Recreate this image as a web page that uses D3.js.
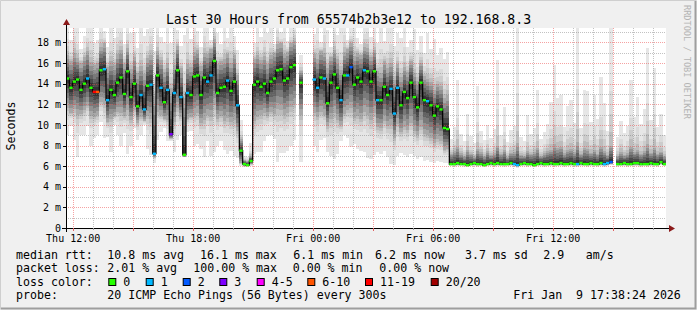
<!DOCTYPE html>
<html>
<head>
<meta charset="utf-8">
<script src="https://cdn.jsdelivr.net/npm/d3@7"></script>
<style>
  body { margin: 0; background: #f0f0f0; }
  text { font-family: "DejaVu Sans Mono", monospace; white-space: pre; }
</style>
</head>
<body>
<svg id="chart" width="697" height="310"></svg>
<script>
// smokeping graph, last 30 hours, 10 minute steps, values in ms
const start = new Date(2026, 0, 8, 11, 38, 24);
const end = new Date(2026, 0, 9, 17, 38, 24);
const stepMinutes = 10;

const median = [
  14.5, 13.6, 14.2, 14.4, 13.4, 14.0, 14.5, 13.6, 13.2, 13.2,
  15.3, 15.4, 12.4, 13.4, 12.9, 14.1, 14.6, 13.0, 15.2, 12.7,
  14.0, 11.8, 12.9, 11.5, 13.8, 13.9, 7.2, 14.8, 13.6, 12.2,
  13.4, 9.1, 13.1, 15.3, 12.7, 7.1, 13.1, 12.9, 14.7, 14.8,
  12.9, 14.6, 14.2, 14.8, 16.2, 13.1, 13.6, 13.7, 14.3, 13.3,
  14.2, 11.9, 7.5, 6.2, 6.1, 6.5, 13.9, 14.2, 13.7, 14.0,
  13.1, 14.2, 14.5, 15.3, 15.4, 14.3, 14.5, 15.6, 15.8, null,
  14.1, null, null, null, 14.4, 13.6, 14.6, 14.5, 12.1, 14.1,
  14.9, 13.6, 12.4, 14.8, 14.8, 15.6, 13.9, 14.6, 14.2, 15.3,
  15.2, 14.2, 15.2, 12.4, 12.4, 13.7, 12.9, 13.5, 11.1, 13.6,
  11.9, 13.2, 12.6, 14.1, 12.7, 11.7, 14.1, 12.4, 12.3, 11.9,
  10.9, 11.8, 11.5, 9.7, 9.6, 6.2, 6.2, 6.3, 6.2, 6.2,
  6.1, 6.2, 6.3, 6.2, 6.2, 6.1, 6.2, 6.3, 6.2, 6.3,
  6.2, 6.2, 6.2, 6.3, 6.2, 6.1, 6.2, 6.3, 6.2, 6.2,
  6.1, 6.2, 6.3, 6.2, 6.2, 6.3, 6.2, 6.2, 6.3, 6.2,
  6.2, 6.3, 6.2, 6.2, 6.3, 6.2, 6.2, 6.3, 6.2, 6.2,
  6.3, 6.2, 6.3, 6.4, null, 6.2, 6.2, 6.3, 6.2, 6.2,
  6.3, 6.3, 6.2, 6.2, 6.2, 6.3, 6.2, 6.2, 6.4, 6.2
];

// lost pings out of 20 per step
const lossCount = [
  0, 0, 0, 0, 0, 0, 1, 0, 12, 8,
  0, 1, 1, 0, 0, 0, 0, 0, 0, 0,
  0, 0, 1, 1, 0, 1, 1, 0, 1, 0,
  1, 3, 1, 0, 1, 0, 1, 0, 0, 0,
  0, 0, 1, 1, 0, 0, 0, 0, 1, 0,
  0, 1, 0, 0, 0, 0, 0, 0, 0, 0,
  0, 0, 0, 0, 0, 0, 0, 0, 0, 0,
  0, 0, 0, 0, 1, 1, 0, 1, 0, 0,
  0, 0, 1, 0, 1, 2, 0, 0, 0, 1,
  0, 0, 0, 1, 0, 0, 0, 1, 1, 1,
  0, 0, 0, 0, 0, 0, 0, 0, 1, 0,
  0, 0, 0, 0, 0, 0, 0, 0, 0, 0,
  0, 0, 0, 0, 0, 0, 0, 0, 0, 0,
  0, 0, 0, 0, 1, 1, 0, 0, 0, 0,
  0, 0, 0, 0, 0, 0, 0, 0, 0, 0,
  0, 0, 0, 1, 0, 0, 0, 0, 0, 0,
  0, 1, 1, 2, 0, 0, 0, 0, 0, 0,
  0, 0, 0, 0, 0, 0, 0, 0, 0, 0
];

// the smoke: fastest ping, lower quartile, upper quartile, slowest ping
const pingMin = [
  9.0, 9.9, 8.5, 6.9, 9.0, 9.0, 9.9, 8.0, 8.7, 9.0,
  10.3, 8.7, 8.8, 7.4, 10.0, 9.0, 8.0, 9.2, 7.2, 8.0,
  9.7, 8.5, 9.0, 10.0, 7.7, 7.1, 6.3, 8.5, 9.3, 9.7,
  8.4, 8.4, 7.4, 8.5, 9.0, 6.9, 9.3, 9.4, 8.0, 8.1,
  7.7, 6.9, 8.4, 7.0, 7.4, 8.0, 8.4, 7.6, 7.2, 7.5,
  7.0, 6.8, 6.0, 5.9, 5.9, 6.0, 7.2, 7.4, 7.4, 8.4,
  8.9, 9.0, 8.6, 6.4, 7.3, 7.3, 7.5, 8.0, 8.5, null,
  6.4, null, null, null, 8.0, 7.4, 8.5, 8.7, 7.4, 7.0,
  6.7, 7.2, 8.4, 9.0, 8.7, 7.9, 8.1, 7.7, 7.5, 7.4,
  6.8, 6.7, 7.1, 7.4, 7.2, 7.5, 6.9, 6.2, 6.1, 7.0,
  7.3, 7.1, 6.9, 7.2, 7.0, 6.7, 6.9, 6.5, 6.6, 6.4,
  6.3, 6.5, 6.4, 6.3, 6.3, 6.0, 5.9, 6.0, 6.0, 5.9,
  5.9, 6.0, 6.0, 5.9, 6.0, 5.9, 6.0, 6.0, 5.9, 6.0,
  6.0, 5.9, 6.0, 6.0, 5.9, 5.8, 6.0, 6.0, 5.9, 6.0,
  5.9, 6.0, 6.0, 5.9, 6.0, 6.0, 5.9, 6.0, 6.0, 5.9,
  6.0, 6.0, 5.9, 5.9, 6.0, 6.0, 5.9, 6.0, 6.0, 5.9,
  6.0, 5.9, 6.0, 6.1, null, 5.9, 6.0, 6.0, 5.9, 6.0,
  6.0, 6.0, 5.9, 6.0, 5.9, 6.0, 6.0, 5.9, 6.1, 6.0
];

const pingQ1 = [
  11.6, 11.2, 11.5, 11.0, 11.1, 11.4, 11.8, 10.9, 10.8, 11.0,
  12.2, 12.0, 10.3, 10.6, 10.9, 11.3, 11.2, 10.9, 11.4, 10.5,
  11.4, 10.2, 10.8, 10.4, 10.9, 10.6, 6.9, 11.3, 11.0, 10.6,
  10.5, 8.7, 10.3, 11.6, 10.8, 6.9, 10.6, 10.8, 11.0, 11.2,
  10.2, 10.5, 11.0, 10.8, 11.9, 10.6, 10.9, 10.4, 10.7, 10.3,
  10.5, 9.4, 6.3, 6.0, 6.0, 6.2, 10.4, 10.8, 11.0, 11.2,
  10.9, 11.3, 11.1, 11.5, 11.4, 11.0, 11.2, 11.7, 12.0, null,
  11.0, null, null, null, 11.2, 10.8, 11.3, 11.0, 9.9, 10.6,
  11.2, 10.5, 10.0, 11.1, 11.4, 11.6, 10.7, 10.9, 10.6, 11.3,
  11.0, 10.5, 11.2, 9.8, 9.7, 10.4, 9.9, 10.0, 8.7, 10.1,
  9.3, 9.8, 9.5, 10.2, 9.4, 9.0, 9.8, 9.1, 9.0, 8.7,
  8.2, 8.6, 8.4, 7.6, 7.7, 6.1, 6.1, 6.1, 6.1, 6.1,
  6.0, 6.1, 6.1, 6.1, 6.1, 6.0, 6.1, 6.1, 6.1, 6.1,
  6.1, 6.1, 6.1, 6.1, 6.1, 6.0, 6.1, 6.1, 6.1, 6.1,
  6.0, 6.1, 6.1, 6.1, 6.1, 6.1, 6.1, 6.1, 6.1, 6.1,
  6.1, 6.1, 6.1, 6.1, 6.1, 6.1, 6.1, 6.1, 6.1, 6.1,
  6.1, 6.1, 6.1, 6.2, null, 6.1, 6.1, 6.1, 6.1, 6.1,
  6.1, 6.1, 6.1, 6.1, 6.1, 6.1, 6.1, 6.1, 6.2, 6.1
];

const pingQ3 = [
  16.8, 16.2, 17.0, 16.5, 16.0, 16.6, 17.2, 16.1, 15.8, 16.0,
  17.6, 17.9, 15.6, 16.2, 15.8, 16.9, 17.3, 15.9, 17.5, 15.4,
  16.6, 15.0, 15.7, 14.9, 16.5, 16.8, 12.8, 17.2, 16.3, 15.1,
  16.0, 13.6, 15.8, 17.7, 15.5, 12.6, 15.9, 15.6, 17.1, 17.3,
  15.7, 17.0, 16.9, 17.4, 18.3, 15.9, 16.2, 16.4, 16.9, 16.0,
  16.8, 14.8, 8.6, 6.6, 6.5, 7.0, 16.4, 16.8, 16.3, 16.7,
  15.9, 16.8, 17.0, 17.8, 17.9, 16.9, 17.1, 17.9, 18.1, null,
  15.2, null, null, null, 16.9, 16.4, 17.2, 17.0, 15.5, 16.6,
  17.3, 16.4, 15.3, 17.1, 17.4, 17.9, 16.7, 17.0, 16.8, 17.6,
  17.5, 16.6, 17.3, 15.2, 15.0, 16.2, 15.5, 16.0, 14.4, 15.9,
  14.6, 15.6, 15.1, 16.2, 15.0, 14.3, 16.0, 14.7, 14.5, 14.2,
  13.4, 14.0, 13.8, 12.6, 12.9, 7.2, 7.5, 7.9, 7.3, 7.0,
  7.6, 7.2, 6.9, 7.7, 7.4, 7.0, 7.5, 7.1, 7.3, 8.0,
  7.2, 7.6, 6.9, 7.3, 7.4, 8.2, 7.1, 7.0, 7.5, 7.2,
  7.4, 7.8, 7.0, 7.3, 7.5, 7.6, 8.1, 7.8, 7.9, 7.3,
  7.6, 7.7, 7.4, 8.3, 7.2, 7.8, 7.7, 7.3, 7.6, 7.2,
  7.9, 7.5, 7.1, 8.0, null, 7.0, 7.4, 7.1, 7.3, 7.9,
  7.4, 7.6, 7.2, 7.5, 8.1, 7.3, 7.8, 7.2, 7.4, 7.0
];

const pingMax = [
  20.5, 18.2, 20.8, 19.6, 17.4, 18.6, 20.2, 21.0, 17.9, 18.2,
  20.6, 19.1, 17.6, 20.3, 18.4, 20.7, 21.0, 17.8, 20.5, 18.9,
  19.0, 17.5, 20.8, 18.6, 19.3, 21.0, 17.2, 20.7, 18.5, 18.0,
  20.4, 17.9, 20.9, 19.2, 17.7, 18.7, 20.6, 18.3, 21.0, 19.1,
  17.6, 20.8, 19.5, 18.2, 21.0, 18.9, 17.8, 20.5, 18.4, 20.9,
  18.6, 17.3, 10.5, 7.0, 6.9, 8.2, 17.9, 19.8, 18.5, 20.2,
  18.9, 19.5, 17.8, 21.0, 19.0, 20.6, 18.1, 19.4, 20.8, null,
  16.8, null, null, null, 18.8, 20.6, 18.0, 21.0, 19.2, 17.6,
  20.8, 18.7, 19.5, 21.0, 18.2, 19.7, 20.7, 18.4, 17.8, 20.5,
  21.0, 18.5, 19.8, 17.9, 20.6, 18.1, 19.4, 20.4, 17.7, 18.9,
  18.4, 20.1, 17.6, 18.2, 19.3, 17.3, 18.6, 17.0, 18.9, 17.4,
  18.3, 16.8, 17.5, 16.4, 17.1, 8.6, 9.8, 14.4, 9.1, 8.4,
  11.1, 8.9, 8.2, 13.8, 9.4, 8.5, 10.0, 8.7, 9.6, 16.3,
  9.0, 11.7, 8.3, 9.5, 9.9, 19.6, 8.8, 8.4, 11.0, 9.1,
  9.7, 13.4, 8.6, 9.3, 10.1, 12.2, 15.8, 12.6, 12.9, 9.8,
  11.8, 12.4, 10.2, 20.5, 9.7, 13.4, 13.3, 10.3, 12.9, 10.6,
  14.6, 12.1, 9.4, 20.5, null, 8.8, 10.4, 9.2, 9.9, 14.4,
  10.8, 12.7, 10.1, 11.5, 17.5, 10.5, 15.5, 9.8, 11.1, 9.0
];

const yTicks = [0, 2, 4, 6, 8, 10, 12, 14, 16, 18];
const yMax = 19.4;

const lossLabels = ["0", "1", "2", "3", "4-5", "6-10", "11-19", "20/20"];
const lossColors = ["#26ff00", "#00b8ff", "#0059ff", "#7e00ff", "#ff00ff", "#ff5500", "#ff0000", "#a10000"];

const titleText = "Last 30 Hours from 65574b2b3e12 to 192.168.8.3";
const rttStats = ["10.8 ms avg", "16.1 ms max", "6.1 ms min", "6.2 ms now", "3.7 ms sd", "2.9", "am/s"];
const lossStats = ["2.01 % avg", "100.00 % max", "0.00 % min", "0.00 % now"];
const probeText = "20 ICMP Echo Pings (56 Bytes) every 300s";
const stampText = "Fri Jan  9 17:38:24 2026";

// ---------------------------------------------------------------

const W = 697, H = 310;
const svg = d3.select("#chart");

const x = d3.scaleTime().domain([start, end]).range([66, 666]);
const y = d3.scaleLinear().domain([0, yMax]).range([228, 28]);

// smoke shades, outermost layer first
const shades = [230, 218, 204, 188, 168, 146, 122, 98, 74, 52];

function lossBucket(n) {
    if (n <= 3) return n;
    if (n <= 5) return 4;
    if (n <= 10) return 5;
    if (n <= 19) return 6;
    return 7;
}

const steps = median.map((m, i) => ({
    t0: d3.timeMinute.offset(start, i * stepMinutes),
    t1: d3.timeMinute.offset(start, (i + 1) * stepMinutes),
    med: m, lo: pingMin[i], q1: pingQ1[i], q3: pingQ3[i], hi: pingMax[i],
    loss: lossCount[i]
}));
const valid = steps.filter(d => d.med != null);

// background and frame
svg.append("rect").attr("width", W).attr("height", H).attr("fill", "#f0f0f0");
svg.append("rect").attr("x", 66).attr("y", 28).attr("width", 600).attr("height", 200).attr("fill", "#ffffff");

svg.append("defs").append("clipPath").attr("id", "plotclip")
    .append("rect").attr("x", 66).attr("y", 28).attr("width", 600).attr("height", 200);

// smoke: 10 layers, outer ones light, inner ones dark
const smoke = svg.append("g").attr("clip-path", "url(#plotclip)");
shades.forEach((g, k) => {
    smoke.append("g").selectAll("rect")
        .data(valid)
        .join("rect")
        .attr("x", d => x(d.t0))
        .attr("width", d => x(d.t1) - x(d.t0) + 0.01)
        .attr("y", d => y(upper(d, k)))
        .attr("height", d => Math.max(0, y(lower(d, k)) - y(upper(d, k))))
        .attr("fill", d3.rgb(g, g, g).formatHex())
        .attr("shape-rendering", "crispEdges");
});
function upper(d, k) {
    if (k < 4) return d.hi + (d.q3 - d.hi) * Math.pow(k / 4, 0.4);
    return d.q3 + (d.med - d.q3) * (k - 4) / 6;
}
function lower(d, k) {
    if (k < 4) return d.lo + (d.q1 - d.lo) * Math.pow(k / 4, 0.4);
    return d.q1 + (d.med - d.q1) * (k - 4) / 6;
}

// grid, dotted, on top of the smoke
const grid = svg.append("g").attr("shape-rendering", "crispEdges");
const hourTicks = x.ticks(d3.timeHour.every(1));
const majorTicks = x.ticks(d3.timeHour.every(3)).map(t => +t);
const minorCol = "rgba(120,120,120,0.45)";
const majorCol = "rgba(235,70,70,0.5)";
grid.selectAll(".vminor")
    .data(hourTicks.filter(t => !majorTicks.includes(+t)))
    .join("line")
    .attr("x1", d => Math.round(x(d)) + 0.5).attr("x2", d => Math.round(x(d)) + 0.5)
    .attr("y1", 28).attr("y2", 228)
    .attr("stroke", minorCol).attr("stroke-dasharray", "1,1");
grid.selectAll(".hminor")
    .data(d3.range(1, 20, 2).filter(v => v < yMax))
    .join("line")
    .attr("x1", 66).attr("x2", 666)
    .attr("y1", d => Math.round(y(d)) + 0.5).attr("y2", d => Math.round(y(d)) + 0.5)
    .attr("stroke", minorCol).attr("stroke-dasharray", "1,1");
grid.selectAll(".vmajor")
    .data(majorTicks)
    .join("line")
    .attr("x1", d => Math.round(x(d)) + 0.5).attr("x2", d => Math.round(x(d)) + 0.5)
    .attr("y1", 28).attr("y2", 228)
    .attr("stroke", majorCol).attr("stroke-dasharray", "1,1");
grid.selectAll(".hmajor")
    .data(yTicks.filter(v => v > 0))
    .join("line")
    .attr("x1", 66).attr("x2", 666)
    .attr("y1", d => Math.round(y(d)) + 0.5).attr("y2", d => Math.round(y(d)) + 0.5)
    .attr("stroke", majorCol).attr("stroke-dasharray", "1,1");

// median line, stepped
const medPts = [];
steps.forEach(d => {
    medPts.push({t: d.t0, v: d.med});
    medPts.push({t: d.t1, v: d.med});
});
svg.append("path")
    .datum(medPts)
    .attr("fill", "none")
    .attr("stroke", "#000")
    .attr("stroke-width", 1.2)
    .attr("d", d3.line().defined(d => d.v != null).x(d => x(d.t)).y(d => y(d.v)));

svg.append("g").selectAll("rect")
    .data(valid)
    .join("rect")
    .attr("x", d => x(d.t0))
    .attr("width", d => x(d.t1) - x(d.t0))
    .attr("y", d => y(d.med) - 1.2)
    .attr("height", 2.4)
    .attr("fill", d => lossColors[lossBucket(d.loss)]);

// axes
const axis = svg.append("g");
axis.append("line").attr("x1", 62).attr("x2", 670).attr("y1", 228.5).attr("y2", 228.5).attr("stroke", "#000");
axis.append("line").attr("x1", 66.5).attr("x2", 66.5).attr("y1", 232).attr("y2", 24).attr("stroke", "#000");
axis.append("path").attr("d", "M669,225 L675,228.5 L669,232 Z").attr("fill", "#8b1a1a");
axis.append("path").attr("d", "M63,25 L66.5,19 L70,25 Z").attr("fill", "#8b1a1a");

axis.selectAll(".xt")
    .data(hourTicks)
    .join("line")
    .attr("x1", d => Math.round(x(d)) + 0.5).attr("x2", d => Math.round(x(d)) + 0.5)
    .attr("y1", 228).attr("y2", d => majorTicks.includes(+d) ? 231 : 230)
    .attr("stroke", d => majorTicks.includes(+d) ? "#e06060" : "#999");
axis.selectAll(".yt")
    .data(yTicks)
    .join("line")
    .attr("x1", 63).attr("x2", 66)
    .attr("y1", d => Math.round(y(d)) + 0.5).attr("y2", d => Math.round(y(d)) + 0.5)
    .attr("stroke", "#000");

const fmtX = d3.timeFormat("%a %H:%M");
axis.selectAll(".xl")
    .data(x.ticks(d3.timeHour.every(6)))
    .join("text")
    .attr("x", d => x(d))
    .attr("y", 241.5)
    .attr("text-anchor", "middle")
    .attr("font-size", 10)
    .attr("fill", "#000")
    .text(d => fmtX(d));
axis.selectAll(".yl")
    .data(yTicks)
    .join("text")
    .attr("x", 61)
    .attr("y", d => y(d) + 3.6)
    .attr("text-anchor", "end")
    .attr("font-size", 10)
    .attr("fill", "#000")
    .text(d => d === 0 ? "0" : d + " m");

// titles
svg.append("text").attr("x", 348.5).attr("y", 24).attr("text-anchor", "middle")
    .attr("font-size", 13.2).attr("fill", "#000").text(titleText);
svg.append("text").attr("transform", "translate(15,126) rotate(-90)").attr("text-anchor", "middle")
    .attr("font-size", 11.6).attr("fill", "#000").text("Seconds");
svg.append("text").attr("transform", "translate(684,5) rotate(90)")
    .attr("font-size", 8.6).attr("fill", "#b4b4b4").text("RRDTOOL / TOBI OETIKER");

// legend
const lg = svg.append("g").attr("font-size", 11.6).attr("fill", "#000");
const rows = [258.5, 272, 285.5, 299];
lg.append("text").attr("x", 16).attr("y", rows[0]).text("median rtt:");
lg.append("text").attr("x", 16).attr("y", rows[1]).text("packet loss:");
lg.append("text").attr("x", 16).attr("y", rows[2]).text("loss color:");
lg.append("text").attr("x", 16).attr("y", rows[3]).text("probe:");

const rttX = [107.3, 200, 293.3, 375, 465, 543.3, 585.7];
lg.selectAll(".rtt").data(rttStats).join("text")
    .attr("x", (d, i) => rttX[i]).attr("y", rows[0]).text(d => d);
const lossX = [107.3, 193.3, 292.7, 379.3];
lg.selectAll(".pl").data(lossStats).join("text")
    .attr("x", (d, i) => lossX[i]).attr("y", rows[1]).text(d => d);

const boxX = [108.3, 145.7, 182.7, 219.3, 256.7, 307.3, 365, 430.7];
lg.selectAll(".box").data(lossColors).join("rect")
    .attr("x", (d, i) => boxX[i] + 0.5).attr("y", 278.5)
    .attr("width", 7).attr("height", 7)
    .attr("fill", d => d).attr("stroke", "#000").attr("stroke-width", 1);
lg.selectAll(".bl").data(lossLabels).join("text")
    .attr("x", (d, i) => boxX[i] + 15).attr("y", rows[2]).text(d => d);

lg.append("text").attr("x", 107.3).attr("y", rows[3]).text(probeText);
lg.append("text").attr("x", 513.3).attr("y", rows[3]).text(stampText);

// frame shading
svg.append("path").attr("d", "M0.5,309.5 L0.5,0.5 L696.5,0.5").attr("fill", "none").attr("stroke", "#cfcfcf");
svg.append("path").attr("d", "M1,308.5 L695.5,308.5 L695.5,1").attr("fill", "none").attr("stroke", "#9e9e9e").attr("stroke-width", 2);
</script>
</body>
</html>
